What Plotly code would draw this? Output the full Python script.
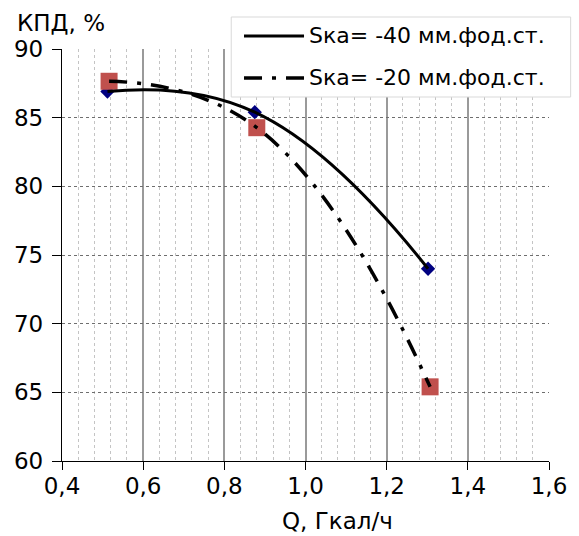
import plotly.graph_objects as go

# Heat output, Gcal/h, and boiler efficiency, %
q_s40 = [0.512, 0.875, 1.302]
eff_s40 = [86.9, 85.4, 74.0]

q_s20 = [0.516, 0.880, 1.307]
eff_s20 = [87.65, 84.27, 65.4]

name_s40 = "Sка= -40 мм.фод.ст."
name_s20 = "Sка= -20 мм.фод.ст."

FONT = "DejaVu Sans, Liberation Sans, Arial, sans-serif"
DASHDOT = "18px,10px,4px,10px"

# plot area in pixels, used to place the hand-drawn legend box
W, H = 579, 536
ML, MR, MT, MB = 62, 22, 49, 75
PW, PH = W - ML - MR, H - MT - MB


def px(x):
    return (x - ML) / PW


def py(y):
    return (H - MB - y) / PH


fig = go.Figure()

# measured points (drawn under the smoothed curves)
fig.add_trace(go.Scatter(
    x=q_s40, y=eff_s40, mode="markers", showlegend=False,
    marker=dict(symbol="diamond", size=11, color="#000080"),
    hoverinfo="skip",
))
fig.add_trace(go.Scatter(
    x=q_s20, y=eff_s20, mode="markers", showlegend=False,
    marker=dict(symbol="square", size=17, color="#c0504d"),
    hoverinfo="skip",
))

# smoothed curves
fig.add_trace(go.Scatter(
    x=q_s40, y=eff_s40, mode="lines", name=name_s40, showlegend=False,
    line=dict(color="black", width=3, shape="spline", smoothing=1.3),
))
fig.add_trace(go.Scatter(
    x=q_s20, y=eff_s20, mode="lines", name=name_s20, showlegend=False,
    line=dict(color="black", width=3.5, shape="spline", smoothing=1.3,
              dash=DASHDOT),
))

# legend box with line samples
shapes = [
    dict(type="rect", xref="paper", yref="paper",
         x0=px(234), x1=px(579), y0=py(97), y1=py(17),
         line=dict(color="#d9d9d9", width=1), fillcolor="white", layer="above"),
    dict(type="line", xref="paper", yref="paper",
         x0=px(247), x1=px(308), y0=py(36), y1=py(36),
         line=dict(color="black", width=3), layer="above"),
    dict(type="line", xref="paper", yref="paper",
         x0=px(247), x1=px(308), y0=py(78), y1=py(78),
         line=dict(color="black", width=3.5, dash=DASHDOT), layer="above"),
]

annotations = [
    dict(text=name_s40, xref="paper", yref="paper", x=px(311), y=py(36),
         xanchor="left", yanchor="middle", showarrow=False,
         font=dict(family=FONT, size=22)),
    dict(text=name_s20, xref="paper", yref="paper", x=px(311), y=py(78),
         xanchor="left", yanchor="middle", showarrow=False,
         font=dict(family=FONT, size=22)),
    dict(text="КПД, %", xref="paper", yref="paper", x=px(60.5), y=py(23.5),
         xanchor="center", yanchor="middle", showarrow=False,
         font=dict(family=FONT, size=23)),
    dict(text="Q, Гкал/ч", xref="paper", yref="paper", x=px(342), y=py(521),
         xanchor="center", yanchor="middle", showarrow=False,
         font=dict(family=FONT, size=23)),
]

fig.update_layout(
    width=W, height=H,
    margin=dict(l=ML, r=MR, t=MT, b=MB),
    paper_bgcolor="white", plot_bgcolor="white",
    separators=", ",
    font=dict(family=FONT, size=23, color="black"),
    showlegend=False,
    xaxis=dict(
        range=[0.4, 1.6], dtick=0.2, tick0=0.4, tickformat=".1f",
        showline=True, linecolor="black", linewidth=1.3,
        ticks="outside", ticklen=8, tickcolor="black", tickwidth=1.3,
        showgrid=True, gridcolor="#9a9a9a", gridwidth=1.5,
        minor=dict(dtick=0.04, tick0=0.4, showgrid=True,
                   gridcolor="#c4c4c4", griddash="dot", gridwidth=1),
        zeroline=False,
        tickfont=dict(size=23),
        ticklabelstandoff=-4,
    ),
    yaxis=dict(
        range=[60, 90], dtick=5, tick0=60,
        showline=True, linecolor="black", linewidth=1.3,
        ticks="outside", ticklen=9, tickcolor="black", tickwidth=1.3,
        showgrid=True, gridcolor="#6e6e6e", griddash="dot", gridwidth=1.2,
        zeroline=False,
        tickfont=dict(size=23),
        ticklabelstandoff=4,
    ),
    shapes=shapes,
    annotations=annotations,
)

fig.write_html("out.html")
